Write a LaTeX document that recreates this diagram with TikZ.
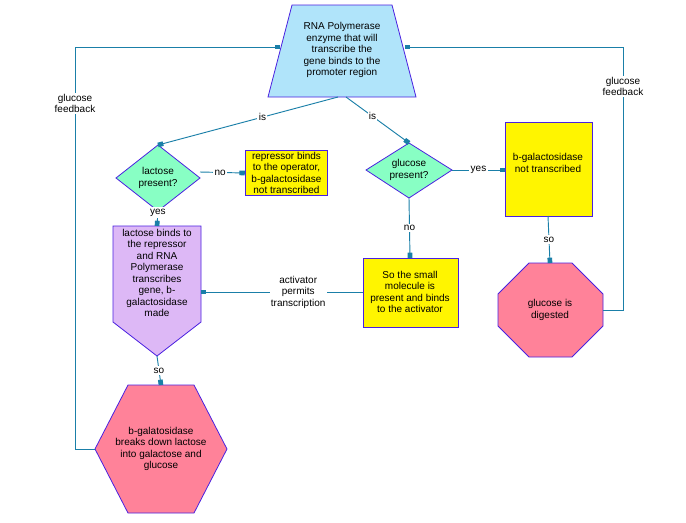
\documentclass[tikz,border=0pt]{standalone}
\usepackage{fontspec}
\setmainfont{Liberation Sans}
\usetikzlibrary{arrows.meta}
\definecolor{ln}{HTML}{1A7FA8}
\definecolor{bd}{HTML}{4A20E0}
\definecolor{tb}{HTML}{B0E4FA}
\definecolor{gr}{HTML}{88FFC4}
\definecolor{yl}{HTML}{FFF500}
\definecolor{pu}{HTML}{DDB8F6}
\definecolor{pk}{HTML}{FF8299}
\begin{document}
\begin{tikzpicture}[x=0.75pt,y=-0.75pt,
  shp/.style={draw=bd,line width=0.6pt},
  txt/.style={font=\fontsize{7.5}{8.6}\selectfont,align=center},
  lbl/.style={txt,fill=white,inner sep=1pt},
  arr/.style={draw=ln,line width=0.7pt,-{Rectangle[length=4pt,width=3.5pt]}},
  con/.style={draw=ln,line width=0.7pt}]
\useasboundingbox (0,0) rectangle (686,522);
% shapes
\draw[shp,fill=tb] (292,5)--(392,5)--(416,97)--(268,97)--cycle;
\node[txt] (rna) at (342,50) {RNA Polymerase\\enzyme that will\\transcribe the\\gene binds to the\\promoter region};
\coordinate (rnaB1) at (338,97); \coordinate (rnaB2) at (346,97);
\coordinate (rnaL) at (280,47); \coordinate (rnaR) at (405,47);
\draw[shp,fill=gr] (116,178)--(158,145)--(200,178)--(158,211)--cycle;
\node[txt] (lac) at (158,178) {lactose\\present?};
\coordinate (lacT) at (158,145); \coordinate (lacR) at (200,172); \coordinate (lacB) at (158,211);
\node[shp,fill=yl,txt,minimum width=81\pgflinewidth,inner sep=1pt] (rep) at (286.5,173) {\parbox{60pt}{\centering repressor binds\\to the operator,\\b-galactosidase\\not transcribed}};
\draw[shp,fill=pu] (113,226)--(201,226)--(201,322)--(157,356)--(113,322)--cycle;
\node[txt] (pur) at (157,273) {lactose binds to\\the repressor\\and RNA\\Polymerase\\transcribes\\gene, b-\\galactosidase\\made};
\coordinate (purT) at (157,226); \coordinate (purR) at (201,292); \coordinate (purB) at (157,356);
\draw[shp,fill=gr] (366,170)--(409,143)--(452,170)--(409,198)--cycle;
\node[txt] (glu) at (409,170) {glucose\\present?};
\coordinate (gluT) at (409,143); \coordinate (gluR) at (452,170); \coordinate (gluB) at (409,198);
\draw[shp,fill=yl] (505,122) rectangle (592,216);
\node[txt] (bgal) at (548,163) {b-galactosidase\\not transcribed};
\coordinate (bgalL) at (505,170); \coordinate (bgalB) at (548,216);
\draw[shp,fill=yl] (363,258) rectangle (458,327);
\node[txt] (sm) at (410,292) {So the small\\molecule is\\present and binds\\to the activator};
\coordinate (smL) at (363,292); \coordinate (smT) at (410,258);
\draw[shp,fill=pk] (529,263)--(572,263)--(603,294)--(603,326)--(572,357)--(529,357)--(498,326)--(498,294)--cycle;
\node[txt] (oct) at (550,310) {glucose is\\digested};
\coordinate (octT) at (550,263); \coordinate (octR) at (603,310);
\draw[shp,fill=pk] (128,385)--(194,385)--(227,449)--(194,513)--(128,513)--(95,449)--cycle;
\node[txt] (hex) at (161,449) {b-galatosidase\\breaks down lactose\\into galactose and\\glucose};
\coordinate (hexT) at (161,385); \coordinate (hexL) at (95,449);
% connectors
\draw[arr] (rnaB1) -- node[lbl,pos=0.42]{is} (lacT);
\draw[arr] (rnaB2) -- node[lbl,pos=0.42]{is} (gluT);
\draw[arr] (lacR) -- node[lbl,pos=0.45]{no} (rep.west);
\draw[arr] (lacB) -- node[lbl,pos=0.1]{yes} (purT);
\draw[arr] (gluR) -- node[lbl,pos=0.5]{yes} (bgalL);
\draw[arr] (gluB) -- node[lbl,pos=0.5]{no} (smT);
\draw[arr] (smL) -- node[lbl,pos=0.4]{activator\\permits\\transcription} (purR);
\draw[arr] (bgalB) -- node[lbl,pos=0.5]{so} (octT);
\draw[arr] (purB) -- node[lbl,pos=0.5]{so} (hexT);
\draw[arr] (hexL) -- (75,449) -- node[lbl,pos=0.86]{glucose\\feedback} (75,47) -- (rnaL);
\draw[arr] (octR) -- (623,310) -- node[lbl,pos=0.85]{glucose\\feedback} (623,47) -- (rnaR);
\end{tikzpicture}
\end{document}
